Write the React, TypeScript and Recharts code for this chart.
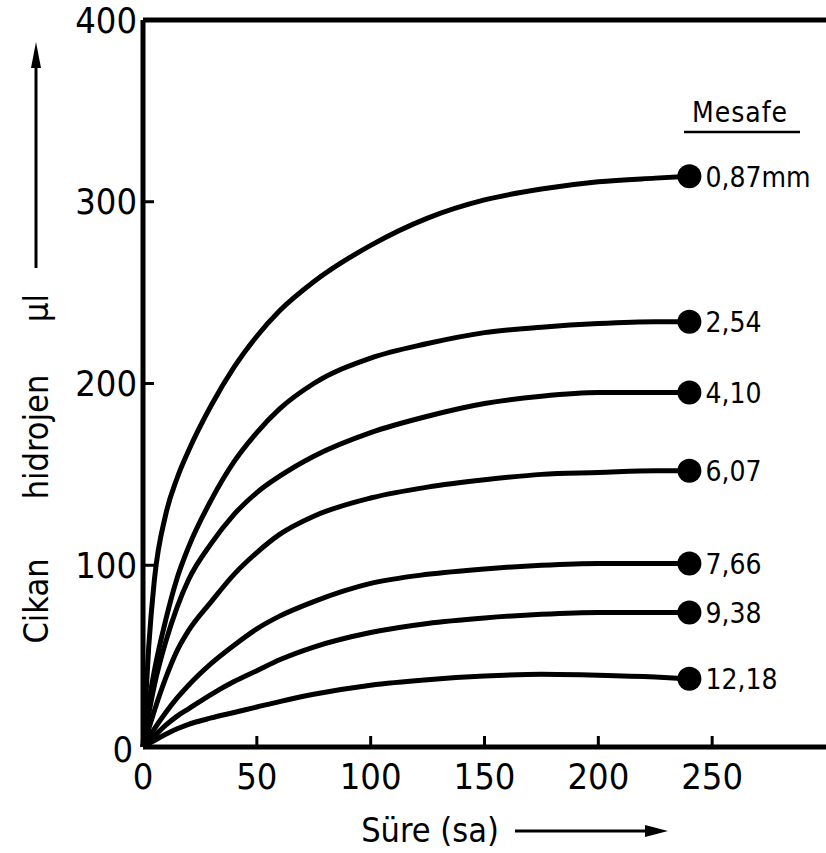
import { LineChart, Line, XAxis, YAxis, ReferenceLine, Customized } from "recharts";

// Süre (sa) değerleri
const hours = [0, 2.5, 5, 10, 15, 20, 30, 40, 50, 60, 75, 100, 125, 150, 175, 200, 225, 240];

// Çıkan hidrojen (µl), mesafeye göre
const d087 = [0, 55, 92, 128, 148, 163, 188, 209, 226, 240, 256, 276, 291, 301, 307, 311, 313, 314];
const d254 = [0, 24, 42, 70, 93, 110, 136, 157, 173, 186, 200, 214, 222, 228, 231, 233, 234, 234];
const d410 = [0, 18, 34, 58, 77, 92, 112, 128, 140, 149, 160, 173, 182, 189, 193, 195, 195, 195];
const d607 = [0, 10, 20, 38, 53, 64, 80, 95, 107, 117, 127, 137, 143, 147, 150, 151, 152, 152];
const d766 = [0, 5, 10, 19, 27, 34, 46, 56, 65, 72, 80, 90, 95, 98, 100, 101, 101, 101];
const d938 = [0, 3, 6, 12, 17, 21, 29, 36, 42, 48, 55, 63, 68, 71, 73, 74, 74, 74];
const d1218 = [0, 1.8, 3.6, 7, 10, 12.5, 16, 19, 22, 25, 29, 34, 37, 39, 40, 39.5, 38.5, 37.5];

const seriesKeys = ["a", "b", "c", "d", "e", "f", "g"];
const seriesValues = [d087, d254, d410, d607, d766, d938, d1218];
const seriesNames = ["0,87mm", "2,54", "4,10", "6,07", "7,66", "9,38", "12,18"];

const xTicks = [0, 50, 100, 150, 200, 250];
const yTicks = [0, 100, 200, 300, 400];

const data = hours.map((t, i) => {
  const row: Record<string, number> = { t };
  seriesKeys.forEach((k, j) => {
    row[k] = seriesValues[j][i];
  });
  return row;
});

const FONT = "'DejaVu Sans Condensed', 'Liberation Sans Narrow', sans-serif";

function XTick(props: any) {
  const { x, y, payload } = props;
  return (
    <g>
      {payload.value !== 0 && (
        <line x1={x} y1={y} x2={x} y2={y - 11} stroke="#000" strokeWidth={3} />
      )}
      <text x={x} y={y + 42} textAnchor="middle" fontSize={36} fontFamily={FONT} fill="#000">
        {payload.value}
      </text>
    </g>
  );
}

function YTick(props: any) {
  const { x, y, payload } = props;
  const v = payload.value;
  return (
    <g>
      {v !== 0 && v !== 400 && (
        <line x1={x} y1={y} x2={x + 11} y2={y} stroke="#000" strokeWidth={3} />
      )}
      <text
        x={v === 0 ? x - 10 : x - 6}
        y={v === 0 ? y + 2 : y}
        textAnchor="end"
        dominantBaseline="central"
        fontSize={36}
        fontFamily={FONT}
        fill="#000"
      >
        {v}
      </text>
    </g>
  );
}

function Decorations() {
  return (
    <g fontFamily={FONT} fill="#000">
      {/* y axis title */}
      <text transform="translate(36,601) rotate(-90)" textAnchor="middle" dominantBaseline="central" fontSize={34}>
        Cikan
      </text>
      <text transform="translate(36,437) rotate(-90)" textAnchor="middle" dominantBaseline="central" fontSize={34}>
        hidrojen
      </text>
      <text transform="translate(36,308) rotate(-90)" textAnchor="middle" dominantBaseline="central" fontSize={34}>
        µl
      </text>
      <line x1={36} y1={268} x2={36} y2={62} stroke="#000" strokeWidth={3} />
      <polygon points="36,42 31,68 41,68" fill="#000" />
      {/* x axis title */}
      <text x={430} y={830} textAnchor="middle" dominantBaseline="central" fontSize={34}>
        Süre (sa)
      </text>
      <line x1={515} y1={831} x2={648} y2={831} stroke="#000" strokeWidth={3} />
      <polygon points="668,831 645,825 645,837" fill="#000" />
      {/* legend header */}
      <text x={740} y={112} textAnchor="middle" dominantBaseline="central" fontSize={28} letterSpacing={1}>
        Mesafe
      </text>
      <line x1={684} y1={132} x2={800} y2={132} stroke="#000" strokeWidth={2.5} />
    </g>
  );
}

function makeDot(name: string) {
  return (p: any) => {
    if (p.index !== hours.length - 1) return <g key={`${name}-${p.index}`} />;
    return (
      <g key={`${name}-${p.index}`}>
        <circle cx={p.cx} cy={p.cy} r={12} fill="#000" />
        <text
          x={p.cx + 16}
          y={p.cy + 1}
          dominantBaseline="central"
          fontSize={28}
          fontFamily={FONT}
          fill="#000"
        >
          {name}
        </text>
      </g>
    );
  };
}

export default function App() {
  return (
    <div style={{ position: "absolute", left: 0, top: 0, background: "#fff" }}>
      <LineChart
        width={826}
        height={853}
        data={data}
        margin={{ top: 20, right: 0, bottom: 0, left: 0 }}
      >
        <XAxis
          dataKey="t"
          type="number"
          domain={[0, 300]}
          ticks={xTicks}
          height={106}
          tickSize={0}
          tickMargin={0}
          tick={<XTick />}
          axisLine={{ stroke: "#000", strokeWidth: 5 }}
          tickLine={false}
          interval={0}
        />
        <YAxis
          type="number"
          domain={[0, 400]}
          ticks={yTicks}
          width={143}
          tickSize={0}
          tickMargin={0}
          tick={<YTick />}
          axisLine={{ stroke: "#000", strokeWidth: 5 }}
          tickLine={false}
          interval={0}
        />
        <ReferenceLine y={400} stroke="#000" strokeWidth={5} />
        {seriesKeys.map((k, j) => (
          <Line
            key={k}
            dataKey={k}
            type="monotone"
            stroke="#000"
            strokeWidth={5}
            dot={makeDot(seriesNames[j])}
            activeDot={false}
            isAnimationActive={false}
          />
        ))}
        <Customized component={<Decorations />} />
      </LineChart>
    </div>
  );
}
